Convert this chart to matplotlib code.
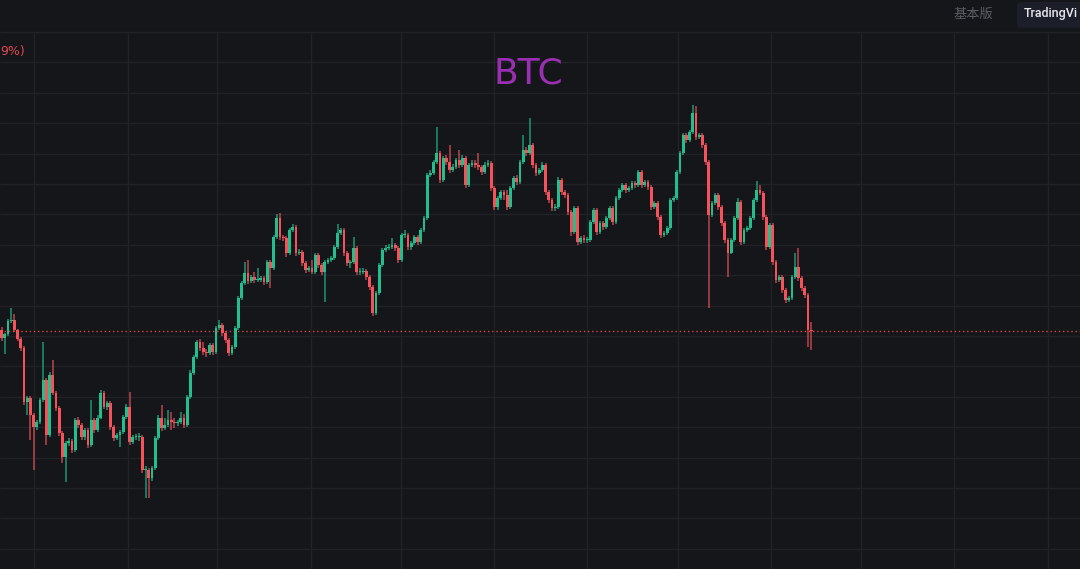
import numpy as np
import matplotlib
matplotlib.use("Agg")
import matplotlib.pyplot as plt
from matplotlib.patches import FancyBboxPatch

# ---------------- data (price in index units) ----------------
first_open = 270
closes = [262, 266, 279, 280, 270, 261, 252, 198, 202, 185, 173, 178, 200, 220, 165, 225, 207, 192, 167, 143,
          157, 159, 150, 180, 175, 163, 170, 155, 180, 170, 182, 207, 193, 197, 173, 162, 165, 168, 183, 193,
          158, 163, 163, 163, 130, 130, 122, 132, 162, 182, 172, 175, 180, 178, 177, 178, 182, 175, 203, 227,
          243, 258, 252, 248, 247, 255, 248, 272, 275, 267, 260, 247, 253, 272, 302, 317, 327, 319, 323, 320,
          320, 322, 318, 338, 332, 363, 382, 363, 362, 347, 370, 373, 347, 348, 337, 330, 332, 328, 345, 335,
          328, 338, 340, 342, 353, 367, 370, 347, 337, 338, 352, 328, 328, 329, 323, 313, 287, 307, 335, 350,
          352, 353, 355, 352, 340, 365, 365, 353, 357, 363, 358, 370, 382, 425, 427, 438, 447, 420, 442, 438,
          430, 433, 440, 435, 442, 415, 435, 437, 435, 433, 428, 435, 437, 412, 393, 402, 408, 405, 393, 412,
          422, 418, 438, 450, 447, 455, 435, 427, 430, 435, 408, 400, 392, 393, 420, 408, 405, 388, 368, 392,
          358, 362, 360, 360, 378, 390, 368, 377, 373, 382, 392, 378, 402, 410, 415, 410, 412, 417, 415, 428,
          415, 418, 413, 393, 397, 383, 365, 367, 372, 400, 402, 428, 447, 465, 460, 468, 487, 463, 465, 455,
          438, 385, 397, 405, 393, 377, 360, 347, 360, 382, 398, 358, 370, 372, 382, 400, 410, 407, 383, 353,
          375, 338, 320, 323, 310, 300, 302, 323, 333, 322, 312, 305, 270, 269]
highs = [273, 267, 281, 292, 286, 271, 263, 254, 204, 204, 187, 180, 202, 258, 222, 228, 240, 209, 194, 169,
         159, 162, 161, 182, 183, 177, 172, 172, 200, 182, 185, 210, 209, 199, 199, 175, 167, 170, 185, 196,
         208, 165, 166, 167, 165, 134, 132, 134, 164, 185, 195, 182, 190, 188, 182, 180, 188, 186, 205, 230,
         245, 260, 261, 258, 251, 257, 257, 274, 280, 277, 269, 262, 255, 274, 304, 319, 338, 340, 325, 328,
         332, 324, 324, 340, 340, 365, 386, 387, 365, 364, 372, 376, 375, 351, 350, 339, 334, 340, 347, 347,
         337, 340, 342, 344, 355, 376, 372, 372, 349, 340, 363, 354, 332, 332, 331, 325, 315, 309, 337, 352,
         355, 356, 362, 357, 354, 367, 370, 367, 359, 365, 365, 372, 384, 427, 430, 440, 473, 449, 444, 445,
         455, 436, 442, 450, 445, 444, 437, 440, 440, 447, 435, 438, 440, 439, 414, 404, 410, 410, 410, 414,
         424, 425, 440, 465, 453, 482, 457, 437, 432, 438, 437, 410, 402, 396, 423, 422, 410, 407, 390, 394,
         394, 364, 365, 363, 380, 392, 392, 379, 379, 384, 394, 394, 404, 412, 417, 417, 414, 419, 419, 430,
         430, 420, 420, 415, 399, 399, 385, 369, 374, 402, 404, 430, 449, 467, 467, 470, 495, 494, 467, 467,
         457, 440, 399, 407, 407, 395, 379, 362, 362, 384, 402, 400, 372, 374, 384, 402, 419, 415, 409, 385,
         377, 377, 340, 325, 325, 312, 304, 325, 347, 352, 324, 314, 307, 278]
lows = [259, 246, 264, 277, 268, 259, 249, 195, 185, 160, 130, 170, 176, 198, 155, 163, 205, 189, 164, 137,
        118, 154, 147, 148, 172, 160, 160, 152, 153, 167, 168, 181, 191, 190, 170, 159, 160, 153, 166, 181,
        155, 156, 160, 159, 127, 102, 102, 119, 130, 160, 169, 170, 173, 170, 172, 174, 176, 172, 173, 201,
        225, 241, 249, 245, 243, 245, 245, 246, 270, 264, 257, 244, 245, 251, 270, 300, 315, 316, 317, 317,
        318, 318, 315, 316, 312, 330, 361, 360, 359, 343, 345, 368, 344, 345, 334, 327, 328, 326, 326, 332,
        325, 298, 336, 338, 340, 351, 365, 344, 334, 332, 336, 325, 325, 326, 320, 310, 284, 285, 305, 333,
        348, 350, 351, 349, 337, 338, 362, 350, 350, 355, 355, 356, 368, 380, 423, 425, 436, 417, 418, 435,
        427, 428, 431, 432, 433, 412, 413, 433, 432, 430, 425, 426, 433, 409, 390, 390, 400, 400, 390, 391,
        410, 415, 416, 436, 444, 445, 432, 424, 425, 428, 405, 397, 389, 389, 391, 405, 402, 385, 364, 366,
        355, 356, 357, 357, 358, 376, 365, 366, 370, 371, 380, 375, 376, 400, 408, 407, 408, 410, 412, 413,
        412, 413, 410, 390, 391, 380, 362, 363, 365, 370, 398, 400, 426, 445, 457, 458, 466, 460, 461, 452,
        435, 292, 383, 395, 390, 374, 357, 323, 346, 358, 380, 355, 356, 368, 370, 380, 398, 405, 380, 350,
        351, 335, 317, 318, 307, 297, 298, 300, 321, 319, 309, 302, 253, 250]

opens = [first_open] + closes[:-1]

# ---------------- style ----------------
BG = "#151619"
GRID = "#212226"
UP = "#22bf8e"
DOWN = "#f6525c"

fig = plt.figure(figsize=(10.8, 5.69), dpi=100)
fig.patch.set_facecolor(BG)
ax = fig.add_axes([0, 0, 1, 1])
ax.set_facecolor(BG)
ax.axis("off")

n = len(closes)
x = np.arange(n)
o = np.array(opens, float)
c = np.array(closes, float)
h = np.array(highs, float)
l = np.array(lows, float)

ax.set_xlim(-0.5, 337.0)
ax.set_ylim(31, 600)

# grid (chart pane starts below top bar)
pane_top = 568
vgrid = [10.1, 39.5, 67.3, 96.7, 124.8, 153.9, 183.0, 211.4, 240.4, 268.5, 297.6, 327.0]
hgrid = pane_top - 30.4 * np.arange(0, 18)
ax.vlines(vgrid, 31, pane_top, color=GRID, lw=1.0, zorder=0)
ax.hlines(hgrid, -0.5, 337.0, color=GRID, lw=1.0, zorder=0)

up = c >= o
cols = np.where(up, UP, DOWN)

ax.vlines(x, l, h, colors=cols, lw=1.1, alpha=0.75, zorder=2)
body_bottom = np.minimum(o, c)
body_h = np.maximum(np.abs(c - o), 1.2)
ax.bar(x, body_h, bottom=body_bottom, width=0.9, color=cols, linewidth=0, zorder=3)

# current price line
ax.axhline(closes[-1], color="#d9434b", lw=1.0, linestyle=(0, (1, 2)), zorder=1)

# texts
fig.text(528 / 1080, 1 - 73 / 569, "BTC", color="#9b2fb3", fontsize=26,
         ha="center", va="center", family="DejaVu Sans")
fig.text(0 / 1080, 1 - 52 / 569, "9%)", color="#e0474f", fontsize=9,
         ha="left", va="center")
fig.text(953 / 1080, 1 - 14 / 569, "基本版", color="#5b5e66", fontsize=9.5,
         ha="left", va="center", family=["Noto Sans CJK SC", "DejaVu Sans"])

btn = FancyBboxPatch((1017 / 1080, 1 - 28 / 569), 80 / 1080, 26 / 569,
                     boxstyle="round,pad=0,rounding_size=0.006",
                     transform=fig.transFigure, facecolor="#1c1f2a",
                     edgecolor="none", zorder=5)
fig.patches.append(btn)
fig.text(1024 / 1080, 1 - 14 / 569, "TradingVi", color="#e8e9ee", fontsize=9,
         ha="left", va="center", fontweight="medium", family="Roboto", zorder=6)

fig.savefig("out.png", dpi=100, facecolor=BG)
